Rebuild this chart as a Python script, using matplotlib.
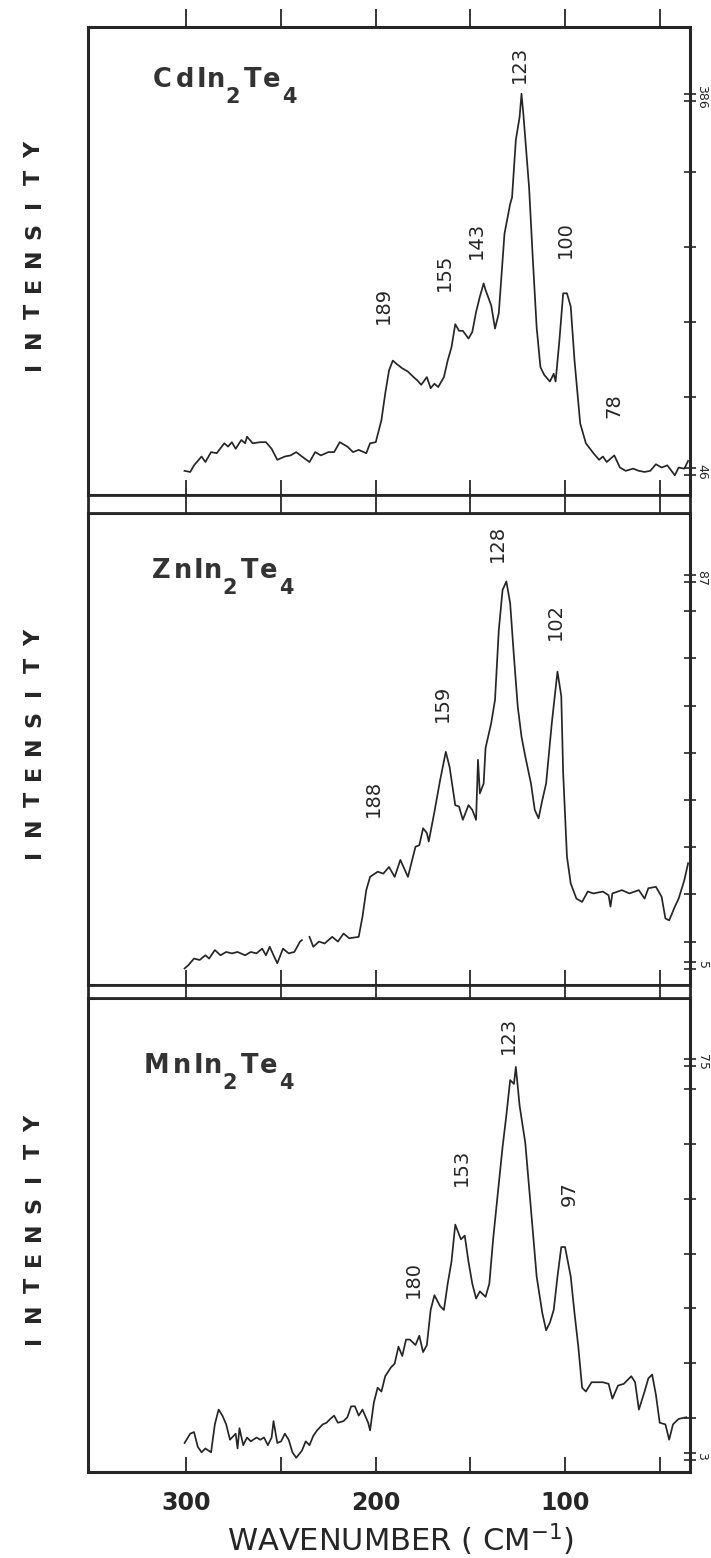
"""Raman spectra of CdIn2Te4, ZnIn2Te4 and MnIn2Te4, three stacked panels."""
from matplotlib import pyplot as plt
import numpy as np

plt.rcParams['font.family'] = ['DejaVu Sans']
plt.rcParams['mathtext.default'] = 'regular'

INK = '#262626'

# --- data (wavenumber in cm-1, intensity in chart counts) ---
cd_wn = [301, 298, 296, 292, 290, 287, 284, 280, 278, 276, 274, 271, 269, 268, 265, 261,
         258, 255, 252, 248, 245, 242, 239, 235, 232, 229, 225, 222, 219, 215, 212, 209,
         205, 203, 200, 197, 195, 193, 191, 189, 186, 183, 180, 178, 176, 173, 171, 169,
         167, 164, 162, 160, 158, 156, 154, 151, 149, 147, 145, 143, 142, 139, 137, 135,
         134, 132, 129, 128, 126, 124, 123, 122, 119, 117, 115, 113, 111, 108, 106, 105,
         103, 101, 99, 97, 95, 92, 89, 85, 82, 80, 78, 74, 71, 68, 64, 61, 58, 55, 52, 49,
         46, 42, 40, 37, 35]
cd_int = [47, 46, 52, 60, 55, 64, 63, 72, 69, 73, 67, 75, 72, 78, 72, 73,
          73, 67, 57, 60, 61, 64, 60, 55, 64, 61, 64, 64, 73, 69, 64, 66,
          63, 72, 73, 93, 117, 138, 147, 144, 140, 137, 132, 129, 125, 132, 122, 126,
          123, 132, 147, 159, 180, 174, 174, 167, 173, 191, 205, 217, 211, 197, 176, 190,
          214, 262, 289, 295, 347, 368, 389, 370, 304, 238, 177, 141, 134, 128, 135, 128,
          165, 208, 208, 196, 147, 90, 72, 63, 57, 60, 55, 61, 50, 47, 49, 47, 46, 47, 53, 50,
          52, 43, 50, 49, 56]

zn_wn = [301, 299, 296, 293, 290, 288, 285, 282, 279, 276, 273, 269, 266, 263, 260, 258,
         256, 254, 252, 249, 246, 243, 240, 239, np.nan, 235, 233, 230, 227, 223, 220, 217,
         214, 209, 207, 205, 203, 199, 196, 193, 190, 187, 183, 179, 177, 175, 173, 172,
         169, 166, 163, 161, 158, 156, 154, 151, 149, 147, 146, 145, 143, 142, 139, 137,
         135, 133, 131, 129, 127, 125, 123, 121, 118, 116, 114, 112, 110, 107, 104, 102,
         101, 99, 97, 94, 91, 88, 85, 80, 77, 76, 75, 70, 66, 61, 58, 56, 52, 49, 47, 45,
         42, 40, 37, 35]
zn_int = [4.3, 5.0, 6.4, 6.1, 7.1, 6.4, 8.2, 7.1, 7.8, 7.5, 7.8, 7.1, 7.8, 7.5, 8.5, 7.1,
          8.9, 7.1, 5.4, 8.5, 7.5, 7.8, 10.0, 10.3, np.nan, 11.0, 8.9, 10.0, 9.6, 11.0, 10.0, 11.7,
          10.7, 11.0, 15.3, 20.9, 23.7, 24.8, 24.4, 25.8, 23.7, 27.3, 23.7, 30.1, 30.4, 34.0, 33.0, 31.2,
          37.5, 44.2, 50.2, 47.0, 38.9, 38.6, 35.8, 38.9, 37.9, 35.8, 48.5, 41.4, 43.5, 51.0, 56.3, 61.2,
          76.0, 84.5, 86.3, 81.7, 70.4, 59.8, 53.4, 49.2, 43.5, 37.9, 36.1, 40.0, 43.5, 56.3, 67.2, 62.0,
          45.7, 28.0, 22.3, 19.1, 18.4, 20.6, 20.2, 20.6, 19.8, 17.4, 20.2, 20.9, 20.2, 20.9, 19.1, 21.3,
          21.6, 19.5, 14.9, 14.5, 17.4, 19.1, 23.0, 26.6]

mn_wn = [301, 298, 296, 294, 292, 290, 287, 285, 283, 281, 279, 277, 274, 273, 272, 270,
         268, 266, 263, 261, 259, 257, 255, 254, 252, 250, 248, 246, 244, 242, 239, 237,
         235, 233, 231, 228, 226, 224, 222, 220, 217, 215, 213, 211, 209, 207, 204, 203,
         201, 199, 197, 195, 192, 190, 188, 186, 184, 182, 179, 177, 175, 173, 171, 169,
         166, 164, 162, 160, 158, 155, 153, 151, 149, 147, 145, 142, 140, 138, 136, 133,
         131, 129, 127, 126, 124, 121, 119, 117, 115, 112, 110, 108, 106, 104, 102, 100,
         97, 95, 93, 91, 89, 86, 83, 80, 77, 75, 72, 69, 65, 63, 61, 58, 56, 54, 52, 50,
         47, 45, 43, 40, 36]
mn_int = [5.4, 7.1, 7.4, 4.7, 3.7, 4.4, 3.7, 8.8, 11.5, 10.4, 8.8, 6.0, 7.1, 4.4, 8.1, 5.0,
          6.4, 5.7, 6.4, 6.0, 6.4, 5.0, 6.4, 9.4, 5.4, 5.7, 7.1, 6.0, 3.7, 2.7, 4.0, 5.7,
          5.0, 6.7, 7.7, 8.8, 9.1, 9.8, 10.4, 9.1, 9.4, 10.1, 12.1, 12.1, 10.4, 11.5, 9.1, 7.7,
          12.8, 15.5, 14.8, 17.6, 19.2, 19.9, 23.0, 21.3, 24.3, 24.3, 23.3, 25.0, 22.0, 23.3, 29.7, 32.4,
          30.4, 29.7, 34.5, 38.5, 45.3, 42.6, 43.3, 38.5, 34.5, 31.8, 33.1, 32.1, 34.5, 42.6, 49.4, 59.5,
          65.3, 71.7, 71.0, 74.1, 67.0, 60.2, 52.1, 44.0, 35.8, 29.1, 26.0, 27.4, 29.7, 35.8, 41.2, 41.2,
          35.8, 29.1, 23.0, 15.5, 14.8, 16.5, 16.5, 16.5, 16.2, 13.5, 15.9, 16.2, 17.6, 16.5, 11.5, 14.8,
          17.2, 17.9, 14.2, 9.1, 8.8, 6.0, 8.8, 9.8, 10.1]

# compound names as (text, is_subscript) pieces, one per character
compounds = [
    [('C', 0), ('d', 0), ('I', 0), ('n', 0), ('2', 1), ('T', 0), ('e', 0), ('4', 1)],
    [('Z', 0), ('n', 0), ('I', 0), ('n', 0), ('2', 1), ('T', 0), ('e', 0), ('4', 1)],
    [('M', 0), ('n', 0), ('I', 0), ('n', 0), ('2', 1), ('T', 0), ('e', 0), ('4', 1)],
]

cd_peaks = [123, 189, 155, 143, 100, 78]
zn_peaks = [128, 102, 159, 188]
mn_peaks = [123, 153, 97, 180]

# where the peak numbers are written (wavenumber, intensity)
cd_peak_pos = [(124, 416), (196, 197), (164, 227), (147, 256), (100, 257), (74, 106)]
zn_peak_pos = [(136, 94.4), (105, 77.8), (165, 60.5), (201, 40.4)]
mn_peak_pos = [(130, 79.8), (155, 55.8), (98, 51.0), (180, 35.2)]

# scale marks on the right edge of each panel
cd_scale = [46, 114, 182, 250, 318, 386]
zn_scale = [5, 10, 20, 30, 40, 50, 60, 70, 80, 87]
mn_scale = [3, 10, 20, 30, 40, 50, 60, 70, 75]
scale_labels = [('386', '46'), ('87', '5'), ('75', '3')]

x_ticks = [300, 250, 200, 150, 100, 50]

W, H = 711, 1558
fig = plt.figure(figsize=(W / 100, H / 100), dpi=100)
fig.patch.set_facecolor('white')

left = 88 / W
width = (690 - 88) / W


def box(top_px, bot_px):
    return [left, 1 - bot_px / H, width, (bot_px - top_px) / H]


panel_px = [(27, 495), (513, 985), (998, 1472)]
strip_px = [(495, 513), (985, 998)]
ylims = [(25.1, 449.5), (0.8, 100.8), (0.1, 86.7)]

spectra = [(cd_wn, cd_int), (zn_wn, zn_int), (mn_wn, mn_int)]
peaks = [(cd_peaks, cd_peak_pos), (zn_peaks, zn_peak_pos), (mn_peaks, mn_peak_pos)]
scales = [cd_scale, zn_scale, mn_scale]
# left edge and baseline of each compound name, image pixels from top-left
name_px = [(153, 87), (152, 578), (145, 1073)]
char_dx = [[9, 32, 48, 63, 80, 100, 119, 136],
           [9, 31, 46, 61, 78, 98, 117, 134],
           [11, 37, 53, 68, 85, 105, 124, 141]]

axes = []
for i in range(3):
    ax = fig.add_axes(box(*panel_px[i]))
    axes.append(ax)
    wn, inten = spectra[i]
    ax.plot(wn, inten, color=INK, lw=1.25)
    ax.set_xlim(352, 34)
    ax.set_ylim(*ylims[i])
    for s in ax.spines.values():
        s.set_linewidth(2.2)
        s.set_color(INK)
    ax.set_xticks(x_ticks)
    ax.tick_params(axis='x', direction='in', length=11, width=1.3, color=INK,
                   labelbottom=False)
    # right-hand scale marks
    sc = scales[i]
    span = ylims[i][1] - ylims[i][0]
    d = span * 3.5 / (panel_px[i][1] - panel_px[i][0])
    marks = [sc[0] - d, sc[0] + d] + sc[1:-1] + [sc[-1] - d, sc[-1] + d]
    ax.set_yticks(marks)
    ax.tick_params(axis='y', right=True, left=False, direction='inout',
                   length=9, width=1.2, color=INK, labelright=False, labelleft=False)

    hi, lo = scale_labels[i]
    for lab, val in ((hi, sc[-1]), (lo, sc[0])):
        ax.annotate(lab, xy=(1.0, val), xycoords=('axes fraction', 'data'),
                    xytext=(4, 0), textcoords='offset points', rotation=-90,
                    ha='left', va='center', fontsize=9, color=INK)

    x0, base = name_px[i]
    for (ch, sub), dx in zip(compounds[i], char_dx[i]):
        fig.text((x0 + dx) / W, 1 - (base + (16 if sub else 0)) / H, ch,
                 fontsize=15 if sub else 18.5, fontweight='bold', color='#333333',
                 ha='center', va='baseline')

    labels, pos = peaks[i]
    for lab, (px, py) in zip(labels, pos):
        ax.text(px, py, str(lab), rotation=90, fontsize=14, color=INK,
                ha='center', va='center')

    # spaced-out INTENSITY, one letter at a time from the bottom up
    mid = (panel_px[i][0] + panel_px[i][1]) / 2 - 3
    for k, ch in enumerate('INTENSITY'):
        fig.text(34 / W, 1 - (mid + (4 - k) * 26.9) / H, ch, rotation=90,
                 ha='center', va='center', fontsize=16, fontweight='bold', color=INK)

# top panel: ticks point outward above the frame
axes[0].tick_params(axis='x', top=True, bottom=True)
for t in axes[0].xaxis.get_major_ticks():
    t.tick2line.set_marker(2)  # TICKUP
    t.tick2line.set_markersize(13)

# bottom panel carries the wavenumber labels
axes[2].set_xticks(x_ticks, labels=['300', '', '200', '', '100', ''])
axes[2].tick_params(axis='x', labelbottom=True, pad=14, labelsize=17)
for lab in axes[2].get_xticklabels():
    lab.set_fontweight('bold')
    lab.set_color(INK)

# thin strips between panels, crossed by the tick marks
for top_px, bot_px in strip_px:
    sx = fig.add_axes(box(top_px, bot_px))
    sx.set_xlim(352, 34)
    sx.set_ylim(0, 1)
    sx.set_xticks([])
    sx.set_yticks([])
    sx.vlines(x_ticks, 0, 1, color=INK, lw=1.3)
    for s in sx.spines.values():
        s.set_linewidth(2.0)
        s.set_color(INK)

fig.text(400 / W, 1 - 1540 / H, r'WAVENUMBER ( CM$^{-1}$)', ha='center', va='center',
         fontsize=22, color=INK)

plt.savefig('out.png', dpi=100, facecolor='white')
